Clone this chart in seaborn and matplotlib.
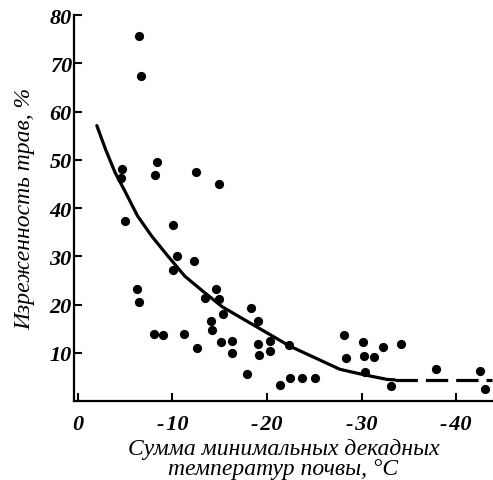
import matplotlib
matplotlib.use("Agg")
import matplotlib.pyplot as plt
import seaborn as sns
import pandas as pd

# Scatter observations: soil temperature sum (x) vs grass thinning % (y)
temp_sum = [-6.5, -6.7, -4.7, -4.6, -8.4, -8.2, -12.5, -14.9,
            -5.0, -10.1, -10.5, -10.1, -12.3, -6.3, -6.5, -14.6, -13.4, -14.9,
            -15.3, -18.3, -19.0, -14.1, -14.2, -8.0, -9.0, -11.2, -12.6, -15.1,
            -16.3, -16.3, -19.0, -19.2, -20.3, -20.3, -17.9, -21.4,
            -22.3, -28.1, -28.3, -30.1, -30.3, -31.3, -32.3, -34.2, -30.4,
            -37.9, -42.5, -22.4, -23.7, -25.1, -33.1, -43.1]
thinning = [75.7, 67.4, 48.1, 46.2, 49.6, 46.9, 47.5, 45.0,
            37.3, 36.5, 30.1, 27.2, 29.1, 23.2, 20.6, 23.2, 21.4, 21.2,
            18.0, 19.3, 16.6, 16.6, 14.7, 13.9, 13.7, 13.9, 11.0, 12.2,
            12.4, 10.0, 11.8, 9.5, 12.4, 10.4, 5.6, 3.3,
            11.6, 13.7, 8.9, 12.2, 9.3, 9.1, 11.2, 11.8, 6.0,
            6.6, 6.2, 4.8, 4.8, 4.8, 3.1, 2.5]

# Fitted curve (solid part)
curve_x = [-2.0, -2.9, -3.9, -5.0, -6.3, -7.8, -9.5, -11.3, -13.2,
           -15.3, -18.9, -22.4, -27.7, -30.4, -32.7, -33.5]
curve_y = [57.1, 52.3, 47.5, 43.4, 38.4, 34.2, 30.1, 25.9, 22.8,
           19.5, 15.4, 11.4, 6.6, 5.4, 4.5, 4.4]
# Dashed continuation
dash_x = [-33.5, -43.8]
dash_y = [4.4, 4.4]

x_ticks = [0, -10, -20, -30, -40]
x_labels = ['0', '-\u200a10', '-\u200a20', '-\u200a30', '-\u200a40']
y_ticks = [10, 20, 30, 40, 50, 60, 70, 80]

sns.set_style("ticks")
plt.rcParams['font.family'] = ['Liberation Serif', 'DejaVu Serif']
plt.rcParams['font.style'] = 'italic'
plt.rcParams['text.color'] = 'black'
plt.rcParams['axes.labelcolor'] = 'black'
plt.rcParams['xtick.color'] = 'black'
plt.rcParams['ytick.color'] = 'black'

fig = plt.figure(figsize=(4.93, 4.81), dpi=100)
ax = fig.add_axes([0.150, 0.164, 0.85, 0.8025])

pts = pd.DataFrame({'x': temp_sum, 'y': thinning})
sns.scatterplot(data=pts, x='x', y='y', ax=ax, color='black', s=44,
                edgecolor='black', linewidth=0, zorder=3)
sns.lineplot(x=curve_x, y=curve_y, ax=ax, color='black', lw=2.3,
             sort=False, estimator=None)
sns.lineplot(x=dash_x, y=dash_y, ax=ax, color='black', lw=2.3,
             sort=False, estimator=None)
ax.lines[-1].set_dashes((7, 2.5))

ax.set_xlim(0.42, -43.9)
ax.set_ylim(0, 80)
ax.set_xticks(x_ticks)
ax.set_xticklabels(x_labels)
ax.set_yticks(y_ticks)
ax.set_yticklabels([str(t) for t in y_ticks])

for lab in ax.get_xticklabels() + ax.get_yticklabels():
    lab.set_fontsize(16)
    lab.set_fontstyle('italic')
    lab.set_fontweight('bold')
    lab.set_color('black')

ax.tick_params(direction='in', length=6, width=1.5, color='black')
ax.tick_params(axis='x', pad=9)
ax.tick_params(axis='y', pad=1.5)
for side in ['top', 'right']:
    ax.spines[side].set_visible(False)
for side in ['left', 'bottom']:
    ax.spines[side].set_linewidth(1.6)
    ax.spines[side].set_color('black')

ax.set_xlabel('Сумма минимальных декадных\nтемператур почвы, °C',
              fontsize=17, fontstyle='italic', labelpad=3, linespacing=0.95,
              color='black')
ax.set_ylabel('Изреженность трав, %', fontsize=17, fontstyle='italic',
              color='black')
ax.yaxis.set_label_coords(-0.093, 0.50)

fig.savefig('out.png', dpi=100)
